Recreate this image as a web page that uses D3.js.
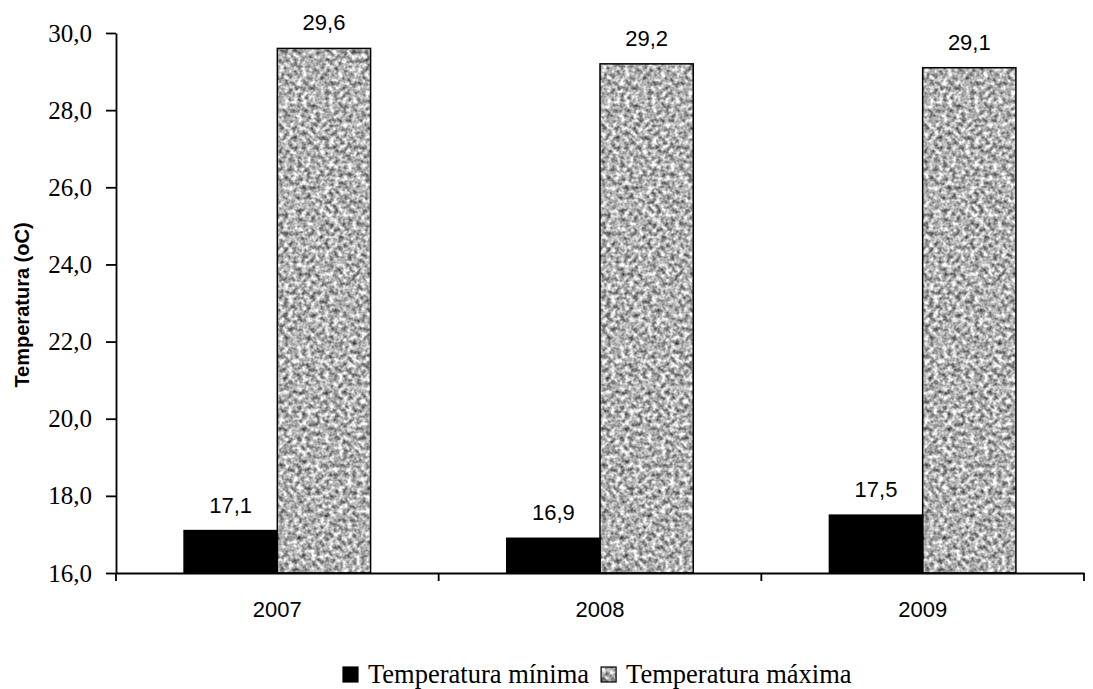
<html>
<head>
    <meta charset="utf-8">
    <style>
        body { margin: 0; background: #ffffff; }
        svg { display: block; }
        .serif { font-family: "Liberation Serif", "Times New Roman", serif; }
        .sans { font-family: "Liberation Sans", Arial, sans-serif; }
    </style>
    <script src="https://cdn.jsdelivr.net/npm/d3@7"></script>
</head>
<body>
<svg id="grafico"></svg>
<script>
    // datos
    let anos = ["2007", "2008", "2009"];
    let series = ["Temperatura mínima", "Temperatura máxima"];
    let tempMinima = [17.1, 16.9, 17.5];
    let tempMaxima = [29.6, 29.2, 29.1];
    let marcasY = [16, 18, 20, 22, 24, 26, 28, 30];
    let etiquetasY = ["16,0", "18,0", "20,0", "22,0", "24,0", "26,0", "28,0", "30,0"];

    let ancho = 1093, alto = 689;
    let margenes = { top: 33, bottom: 116, left: 116, right: 1 };

    let svg = d3.select("#grafico").attr("width", ancho).attr("height", alto);

    // textura gris de las barras de maxima
    let defs = svg.append("defs");
    let filtro = defs.append("filter")
        .attr("id", "ruido")
        .attr("color-interpolation-filters", "sRGB")
        .attr("x", 0).attr("y", 0).attr("width", 1).attr("height", 1);
    filtro.append("feTurbulence")
        .attr("type", "fractalNoise")
        .attr("baseFrequency", 0.22)
        .attr("numOctaves", 2)
        .attr("seed", 7)
        .attr("result", "t");
    filtro.append("feColorMatrix")
        .attr("in", "t")
        .attr("type", "matrix")
        .attr("values", "1.25 0 0 0 0.07  1.25 0 0 0 0.07  1.25 0 0 0 0.07  0 0 0 0 1")
        .attr("result", "g");
    filtro.append("feGaussianBlur")
        .attr("in", "g").attr("stdDeviation", 0.6).attr("result", "b");
    filtro.append("feComposite")
        .attr("in", "b").attr("in2", "SourceGraphic").attr("operator", "in");

    let anchoCuerpo = ancho - margenes.left - margenes.right - 8;
    let y = d3.scaleLinear().domain([16, 30]).range([alto - margenes.bottom, margenes.top]);
    let x = d3.scaleBand().domain(anos).range([margenes.left, margenes.left + anchoCuerpo]).padding(0);
    let xSerie = d3.scaleBand().domain(series).range([0, x.bandwidth()]).paddingInner(0).paddingOuter(0.73);

    let datos = anos.map((a, i) => ({ ano: a, valores: [
        { serie: series[0], valor: tempMinima[i] },
        { serie: series[1], valor: tempMaxima[i] }
    ]}));

    let grupos = svg.append("g").selectAll("g").data(datos).enter().append("g")
        .attr("transform", d => `translate(${x(d.ano)},0)`);

    grupos.selectAll("rect.barra").data(d => d.valores).enter().append("rect")
        .attr("class", "barra")
        .attr("x", d => xSerie(d.serie))
        .attr("width", xSerie.bandwidth())
        .attr("y", d => y(d.valor))
        .attr("height", d => y(16) - y(d.valor))
        .attr("fill", (d, i) => i === 0 ? "#000000" : "#b0b0b0")
        .attr("filter", (d, i) => i === 0 ? null : "url(#ruido)");

    // contorno de las barras
    grupos.selectAll("rect.borde").data(d => d.valores).enter().append("rect")
        .attr("class", "borde")
        .attr("x", d => xSerie(d.serie))
        .attr("width", xSerie.bandwidth())
        .attr("y", d => y(d.valor))
        .attr("height", d => y(16) - y(d.valor))
        .attr("fill", "none")
        .attr("stroke", "#000")
        .attr("stroke-width", 1.5);

    // etiquetas de valor
    grupos.selectAll("text").data(d => d.valores).enter().append("text")
        .attr("class", "sans")
        .attr("x", d => xSerie(d.serie) + xSerie.bandwidth() / 2)
        .attr("y", d => y(d.valor) - 18)
        .attr("text-anchor", "middle")
        .attr("font-size", 22)
        .text(d => d.valor.toFixed(1).replace(".", ","));

    // eje Y (lineas con d3.axisLeft, textos aparte)
    let ejeY = d3.axisLeft(y).tickValues(marcasY)
        .tickSizeInner(10).tickSizeOuter(0).tickFormat("");
    let gY = svg.append("g").attr("transform", `translate(${margenes.left},0)`).call(ejeY);
    gY.selectAll("line, path").attr("stroke", "#000").attr("stroke-width", 1.8);

    svg.append("g").selectAll("text").data(marcasY).enter().append("text")
        .attr("x", margenes.left - 24)
        .attr("y", d => y(d))
        .attr("dy", "0.34em")
        .attr("text-anchor", "end")
        .style("font-family", "'Liberation Serif', serif")
        .style("font-size", "25px")
        .style("fill", "#000")
        .text((d, i) => etiquetasY[i]);

    // eje X
    let ejeX = d3.axisBottom(x).tickSize(0).tickFormat("");
    let gX = svg.append("g").attr("transform", `translate(0,${y(16)})`).call(ejeX);
    gX.select("path").attr("stroke", "#000").attr("stroke-width", 1.8);
    let limites = d3.range(anos.length + 1);
    gX.selectAll("line.limite").data(limites).enter().append("line")
        .attr("class", "limite")
        .attr("x1", i => margenes.left + i * x.step())
        .attr("x2", i => margenes.left + i * x.step())
        .attr("y1", 0).attr("y2", 8)
        .attr("stroke", "#000").attr("stroke-width", 1.8);

    svg.append("g").selectAll("text").data(anos).enter().append("text")
        .attr("x", d => x(d) + x.bandwidth() / 2)
        .attr("y", y(16) + 44)
        .attr("text-anchor", "middle")
        .style("font-family", "'Liberation Sans', Arial, sans-serif")
        .style("font-size", "22px")
        .text(d => d);

    // titulo eje Y
    svg.append("text")
        .attr("class", "sans")
        .attr("transform", `translate(29,${(y(16) + y(30)) / 2 + 2}) rotate(-90)`)
        .attr("text-anchor", "middle")
        .attr("font-size", 20)
        .attr("font-weight", "bold")
        .text("Temperatura (oC)");

    // leyenda
    let leyenda = svg.append("g").attr("transform", "translate(343,683)");
    let posX = 0;
    series.forEach((s, i) => {
        let item = leyenda.append("g").attr("transform", `translate(${posX},0)`);
        item.append("rect")
            .attr("x", 0).attr("y", -16).attr("width", 15).attr("height", 15)
            .attr("fill", i === 0 ? "#000" : "#b0b0b0")
            .attr("filter", i === 0 ? null : "url(#ruido)");
        item.append("rect")
            .attr("x", 0).attr("y", -16).attr("width", 15).attr("height", 15)
            .attr("fill", "none").attr("stroke", "#000").attr("stroke-width", 1.2);
        let t = item.append("text")
            .attr("class", "serif")
            .attr("x", 25).attr("y", 0)
            .attr("font-size", 26.5)
            .text(s);
        posX += 25 + t.node().getComputedTextLength() + 12;
    });
</script>
</body>
</html>
